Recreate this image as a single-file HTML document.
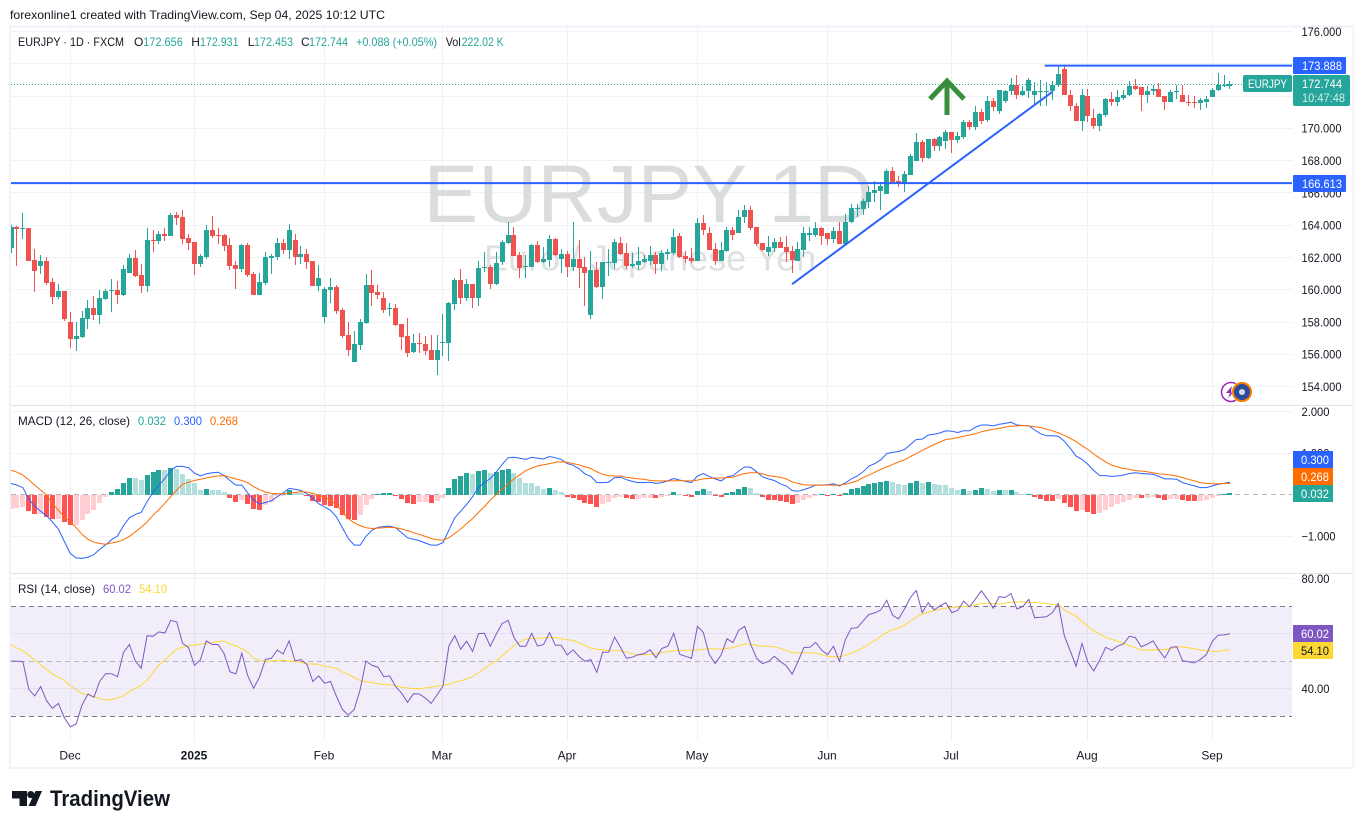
<!DOCTYPE html>
<html lang="en">
<head>
<meta charset="utf-8">
<title>EURJPY 1D chart</title>
<style>
html,body{margin:0;padding:0;background:#fff;width:1364px;height:829px;overflow:hidden}
svg{display:block;font-family:"Liberation Sans",Arial,sans-serif}
</style>
</head>
<body>
<svg id="chart" xmlns="http://www.w3.org/2000/svg" width="1364" height="829" viewBox="0 0 1364 829">
  <defs>
    <clipPath id="clip-price"><rect x="11" y="27" width="1281" height="378"/></clipPath>
    <clipPath id="clip-macd"><rect x="11" y="406" width="1281" height="167"/></clipPath>
    <clipPath id="clip-rsi"><rect x="11" y="574" width="1281" height="167"/></clipPath>
  </defs>

  <text x="10" y="19" font-size="12" fill="#131722" textLength="375" lengthAdjust="spacingAndGlyphs">forexonline1 created with TradingView.com, Sep 04, 2025 10:12 UTC</text>

  <rect x="10" y="26.5" width="1343.5" height="741.5" fill="#fff" stroke="#f0f3fa" stroke-width="2"/>

  <g id="grid"></g>

  <text x="423.5" y="222" font-size="82" fill="#dbdcde">EURJPY 1D</text>
  <text x="484" y="270.5" font-size="36" fill="#dfe0e2">Euro / Japanese Yen</text>

  <rect id="rsiBand" x="11" width="1281" fill="#7e57c2" fill-opacity="0.1"/>

  <line x1="11" x2="1352" y1="405.5" y2="405.5" stroke="#e0e3eb"/>
  <line x1="11" x2="1352" y1="573.5" y2="573.5" stroke="#e0e3eb"/>

  <g id="pricePane" clip-path="url(#clip-price)"></g>
  <g id="macdPane" clip-path="url(#clip-macd)"></g>
  <g id="rsiPane" clip-path="url(#clip-rsi)"></g>

  <g fill="none" stroke="#388e3c" stroke-width="5">
    <line x1="947" y1="115" x2="947" y2="83"/>
    <polyline points="930,99 947,81 964,99"/>
  </g>

  <g font-size="12" fill="#131722">
    <text x="18" y="46" textLength="106" lengthAdjust="spacingAndGlyphs">EURJPY · 1D · FXCM</text>
    <text x="134" y="46">O</text>
    <text x="143.3" y="46" fill="#26a69a" textLength="39.5" lengthAdjust="spacingAndGlyphs">172.656</text>
    <text x="191.3" y="46">H</text>
    <text x="200" y="46" fill="#26a69a" textLength="38.5" lengthAdjust="spacingAndGlyphs">172.931</text>
    <text x="247.7" y="46">L</text>
    <text x="254" y="46" fill="#26a69a" textLength="39" lengthAdjust="spacingAndGlyphs">172.453</text>
    <text x="301" y="46">C</text>
    <text x="309" y="46" fill="#26a69a" textLength="39" lengthAdjust="spacingAndGlyphs">172.744</text>
    <text x="356" y="46" fill="#26a69a" textLength="81" lengthAdjust="spacingAndGlyphs">+0.088 (+0.05%)</text>
    <text x="445.7" y="46" textLength="15" lengthAdjust="spacingAndGlyphs">Vol</text>
    <text x="461.7" y="46" fill="#26a69a" textLength="42" lengthAdjust="spacingAndGlyphs">222.02 K</text>
  </g>
  <g font-size="12" fill="#131722">
    <text x="18" y="425" textLength="112" lengthAdjust="spacingAndGlyphs">MACD (12, 26, close)</text>
    <text x="138" y="425" fill="#26a69a" textLength="28" lengthAdjust="spacingAndGlyphs">0.032</text>
    <text x="174" y="425" fill="#2962ff" textLength="28" lengthAdjust="spacingAndGlyphs">0.300</text>
    <text x="210" y="425" fill="#ff6d00" textLength="28" lengthAdjust="spacingAndGlyphs">0.268</text>
  </g>
  <g font-size="12" fill="#131722">
    <text x="18" y="593" textLength="77" lengthAdjust="spacingAndGlyphs">RSI (14, close)</text>
    <text x="103" y="593" fill="#7e57c2" textLength="28" lengthAdjust="spacingAndGlyphs">60.02</text>
    <text x="139" y="593" fill="#fdd835" textLength="28" lengthAdjust="spacingAndGlyphs">54.10</text>
  </g>

  <g>
    <circle cx="1231" cy="392" r="9.5" fill="#fff" stroke="#9c27b0" stroke-width="1.5"/>
    <polygon points="1232,386 1226,393 1230,393 1228,398 1235,391 1231,391" fill="#9c27b0"/>
    <circle cx="1242" cy="392" r="10.5" fill="#fff"/>
    <circle cx="1242" cy="392" r="9" fill="#2e4a9a" stroke="#f57c00" stroke-width="2"/>
    <circle cx="1242" cy="392" r="3" fill="#fff" fill-opacity="0.8"/>
  </g>

  <g id="axisLabels" font-size="12" fill="#131722"></g>

  <g font-size="12" fill="#fff">
    <rect x="1293" y="57" width="53" height="17" rx="1" fill="#2962ff"/>
    <text x="1302" y="70" textLength="40" lengthAdjust="spacingAndGlyphs">173.888</text>
    <rect x="1293" y="175" width="53" height="17" rx="1" fill="#2962ff"/>
    <text x="1302" y="188" textLength="40" lengthAdjust="spacingAndGlyphs">166.613</text>
    <rect x="1243" y="75" width="49" height="17" rx="2" fill="#26a69a"/>
    <text x="1248" y="88" textLength="39" lengthAdjust="spacingAndGlyphs">EURJPY</text>
    <rect x="1293" y="75" width="57" height="31" rx="2" fill="#26a69a"/>
    <text x="1302" y="88" textLength="40" lengthAdjust="spacingAndGlyphs">172.744</text>
    <text x="1302" y="102" fill="#d4eeeb" textLength="43" lengthAdjust="spacingAndGlyphs">10:47:48</text>

    <rect x="1293" y="451" width="40" height="17" fill="#2962ff"/>
    <text x="1301" y="464" textLength="28" lengthAdjust="spacingAndGlyphs">0.300</text>
    <rect x="1293" y="468" width="40" height="17" fill="#ff6d00"/>
    <text x="1301" y="481" textLength="28" lengthAdjust="spacingAndGlyphs">0.268</text>
    <rect x="1293" y="485" width="40" height="17" fill="#26a69a"/>
    <text x="1301" y="498" textLength="28" lengthAdjust="spacingAndGlyphs">0.032</text>

    <rect x="1293" y="625" width="40" height="17" fill="#7e57c2"/>
    <text x="1301" y="638" textLength="28" lengthAdjust="spacingAndGlyphs">60.02</text>
    <rect x="1293" y="642" width="40" height="17" fill="#fdd835"/>
    <text x="1301" y="655" fill="#131722" textLength="28" lengthAdjust="spacingAndGlyphs">54.10</text>
  </g>

  <g>
    <polygon points="12,791 27,791 27,806 19.5,806 19.5,798.5 12,798.5" fill="#131722"/>
    <circle cx="30.8" cy="794.6" r="3.6" fill="#131722"/>
    <polygon points="35.5,791 42,791 35.5,806 28.5,806" fill="#131722"/>
    <text x="50" y="806" font-size="22" font-weight="700" fill="#131722" textLength="120" lengthAdjust="spacingAndGlyphs">TradingView</text>
  </g>
</svg>

<script>
const opens = [
162.59,163.88,163.77,163.84,161.85,161.47,161.78,160.48,159.54,159.92,
157.99,156.93,157.05,158.17,158.86,158.42,159.42,159.92,159.98,159.67,
161.04,161.97,160.91,160.23,163.09,163.03,163.46,163.34,164.65,164.52,
163.21,162.97,161.60,162.03,163.71,163.40,163.40,162.78,161.53,161.28,
162.78,160.97,159.67,160.41,161.97,162.03,162.90,162.47,163.09,162.03,
162.22,161.78,160.23,158.30,159.98,160.16,158.73,157.18,155.50,156.55,
157.92,160.29,159.85,159.48,158.79,158.86,157.86,157.11,156.12,156.68,
156.62,156.24,155.68,156.68,156.68,159.11,160.60,159.48,160.35,159.48,
161.35,161.41,160.35,161.72,162.90,163.40,162.16,161.41,161.41,162.78,
161.72,161.85,163.15,161.91,162.22,161.41,161.91,161.41,158.42,161.22,
160.16,161.66,161.66,162.90,162.28,161.47,161.53,161.72,161.78,162.16,
161.60,162.22,162.28,163.36,162.12,161.99,161.81,164.11,163.55,162.55,
161.81,162.43,163.73,163.49,164.48,164.92,163.86,162.93,162.37,162.61,
162.99,162.68,162.43,161.81,162.49,163.42,163.42,163.80,163.55,163.17,
163.67,162.86,164.17,164.98,164.98,165.42,165.98,166.10,165.91,167.35,
166.72,166.54,167.10,167.97,169.15,168.15,169.34,168.90,169.21,169.77,
169.27,169.46,170.40,170.06,171.00,170.50,171.70,171.09,171.67,172.29,
172.71,172.09,172.29,172.05,172.29,172.29,172.33,172.66,173.70,172.09,
171.41,170.47,172.03,170.64,170.17,170.85,171.82,171.61,171.86,172.05,
172.64,172.54,172.09,172.33,172.46,172.03,171.61,172.23,172.09,171.65,
171.61,171.55,171.65,171.96,172.36,172.64,172.656];

const highs = [
164.02,163.96,164.77,163.84,162.53,162.16,162.03,160.72,160.35,159.92,
158.61,157.99,158.67,159.36,159.60,159.98,160.04,160.66,160.54,161.53,
162.22,162.47,161.60,163.84,163.71,163.65,163.84,164.77,164.83,164.96,
163.46,162.97,162.22,164.02,164.58,163.84,163.46,163.21,161.78,162.84,
162.90,161.10,161.04,162.34,162.22,163.21,163.15,164.09,163.46,162.72,
162.53,161.78,161.53,160.16,160.72,160.29,158.86,157.99,157.43,158.17,
160.97,161.22,160.29,159.85,159.17,159.11,157.86,158.23,157.24,157.30,
157.11,157.18,157.18,158.48,159.23,160.72,161.28,160.66,160.35,161.78,
162.34,161.53,162.34,163.09,164.21,163.90,162.34,162.16,162.84,163.03,
162.65,163.40,163.21,162.53,162.41,164.21,163.09,162.03,162.41,161.72,
161.72,162.53,163.15,163.28,162.90,162.28,162.65,162.16,162.72,162.34,
162.47,162.53,163.77,163.50,162.43,162.61,164.42,164.61,163.86,162.93,
162.99,163.92,163.92,164.92,165.23,165.17,163.86,162.93,163.36,163.24,
163.30,163.36,162.74,162.99,163.92,163.92,164.23,163.86,163.55,163.86,
164.23,164.67,165.29,165.29,165.60,166.41,166.72,166.66,167.47,167.59,
167.03,167.35,168.40,169.71,169.27,169.34,169.40,169.52,169.90,169.77,
169.77,170.52,170.52,171.40,171.20,172.00,171.90,172.40,172.40,173.12,
173.33,172.60,173.12,172.85,173.02,172.85,172.91,173.84,173.95,172.40,
171.57,172.44,172.46,171.20,170.95,171.88,172.23,172.40,172.36,172.91,
173.08,172.54,172.64,172.71,172.81,172.03,172.36,172.71,172.71,172.09,
171.98,171.88,172.03,172.50,173.43,173.33,172.931];

const lows = [
162.30,161.49,163.15,161.78,159.85,160.97,160.29,159.11,159.42,158.05,
156.37,156.18,156.99,157.55,158.11,157.86,159.36,158.61,159.11,159.60,
161.04,160.79,159.79,159.85,162.34,162.84,163.03,163.34,164.02,162.84,
162.47,160.91,161.41,161.91,163.21,162.84,162.41,161.22,160.04,161.10,
160.79,159.67,159.67,160.29,160.97,161.85,162.22,161.91,161.53,161.60,
161.28,160.23,159.92,157.92,159.17,158.48,156.99,155.87,155.50,156.24,
157.86,158.98,159.42,158.55,158.36,157.74,156.30,155.81,156.06,156.06,
155.99,155.62,154.75,155.87,155.56,158.73,159.11,159.29,158.86,158.98,
161.10,160.04,160.29,161.53,162.84,162.09,160.72,160.72,161.41,161.66,
161.66,161.41,162.09,161.04,160.79,161.16,160.10,158.98,158.17,160.10,
159.42,160.85,161.28,162.16,161.28,161.35,161.22,161.66,161.53,160.97,
161.16,161.85,162.16,162.00,161.68,161.68,161.81,163.42,162.49,161.56,
161.81,162.37,163.11,163.49,164.11,163.73,162.74,162.43,162.12,162.37,
162.61,161.74,161.06,161.81,162.05,163.05,163.30,162.80,162.80,162.93,
162.86,162.80,164.11,164.54,164.61,165.04,165.42,164.92,165.91,166.54,
166.35,166.04,167.10,167.97,167.91,168.09,168.59,168.59,168.71,168.47,
169.09,169.34,169.90,169.90,170.30,170.40,171.10,170.90,171.60,172.09,
171.84,171.98,171.88,171.47,171.41,171.41,171.78,172.56,172.05,171.09,
170.47,169.81,170.39,169.98,169.86,170.68,171.36,171.36,171.78,171.98,
172.40,171.05,171.57,172.09,171.92,171.16,171.61,171.82,171.61,171.36,
171.26,171.16,171.26,171.92,172.31,172.56,172.453];

const closes = [
163.92,163.77,163.84,161.78,161.16,161.78,160.41,159.54,159.92,158.17,
156.93,157.11,158.23,158.86,158.42,159.48,159.92,159.98,159.67,161.28,
161.97,160.85,160.23,163.09,163.03,163.46,163.34,164.65,164.46,163.15,
162.90,161.60,162.09,163.71,163.34,163.34,162.72,161.47,161.28,162.78,
160.91,159.67,160.48,162.03,162.09,162.90,162.47,163.71,162.03,162.22,
161.72,160.23,160.72,160.04,160.16,158.67,157.11,156.24,156.62,157.99,
160.29,159.79,159.67,158.73,158.86,157.80,157.05,156.06,156.68,156.62,
156.18,155.68,156.24,156.74,159.17,160.60,159.48,160.35,159.48,161.35,
161.41,160.35,161.66,162.97,163.40,162.09,161.35,161.47,162.78,161.72,
161.91,163.15,162.16,162.22,161.41,161.91,161.35,161.04,161.22,160.16,
161.72,161.72,162.97,162.22,161.47,161.60,161.78,161.91,162.16,161.60,
162.28,162.34,163.28,162.05,161.93,161.81,164.11,163.73,162.49,161.81,
162.49,163.73,163.42,164.54,164.92,163.80,162.86,162.49,162.68,162.99,
162.61,162.37,161.87,162.55,163.49,163.49,163.80,163.36,163.17,163.67,
162.86,164.23,165.04,165.04,165.48,166.04,166.16,166.41,167.35,166.66,
166.54,167.16,168.28,169.15,168.15,169.34,168.90,169.46,169.77,169.27,
169.52,170.40,170.08,170.99,170.45,171.70,171.30,172.36,172.33,172.71,
172.09,172.33,173.02,172.29,172.33,172.33,172.71,173.39,172.05,171.36,
170.47,172.05,170.79,170.17,170.91,171.82,171.61,171.96,172.09,172.64,
172.46,172.09,172.29,172.46,171.94,171.61,172.23,172.29,171.61,171.55,
171.55,171.74,171.84,172.40,172.71,172.71,172.744];

const macdHist = [
-.35,-.33,-.30,-.40,-.47,-.465,-.54,-.59,-.585,-.67,
-.74,-.735,-.62,-.47,-.375,-.21,-.06,.06,.13,.28,
.40,.395,.35,.47,.54,.59,.585,.64,.62,.50,
.375,.28,.11,.13,.11,.105,.06,-.085,-.18,-.13,
-.23,-.35,-.375,-.25,-.18,-.02,-.01,.11,.06,.04,
-.04,-.16,-.18,-.25,-.28,-.33,-.50,-.59,-.62,-.50,
-.25,-.11,.01,.04,.045,-.04,-.11,-.21,-.215,-.18,
-.175,-.21,-.16,-.085,.16,.375,.45,.52,.50,.57,
.59,.52,.54,.59,.62,.52,.40,.28,.275,.21,
.13,.16,.11,.06,-.06,-.085,-.13,-.21,-.23,-.30,
-.23,-.18,-.085,-.06,-.085,-.11,-.105,-.085,-.08,-.085,
-.06,-.04,.06,.01,-.04,-.06,.085,.13,.085,-.04,
-.06,.04,.06,.13,.18,.16,.04,-.06,-.13,-.135,
-.16,-.18,-.23,-.21,-.13,-.085,-.01,.01,-.04,.01,
-.04,.04,.13,.16,.21,.26,.28,.30,.33,.30,
.26,.23,.28,.33,.28,.30,.26,.23,.225,.16,
.11,.13,.085,.11,.16,.13,.085,.11,.105,.11,
.06,.01,.015,-.06,-.11,-.16,-.165,-.11,-.21,-.30,
-.40,-.375,-.42,-.47,-.45,-.375,-.30,-.23,-.18,-.13,
-.085,-.09,-.085,-.06,-.085,-.13,-.11,-.105,-.13,-.16,
-.165,-.16,-.13,-.085,-.04,.01,.032];

const macdLine = [
.27,.23,.17,-.11,-.28,-.40,-.51,-.66,-.83,-1.13,
-1.42,-1.53,-1.54,-1.51,-1.45,-1.32,-1.21,-1.09,-1.00,-.75,
-.56,-.48,-.43,-.17,.05,.23,.39,.59,.68,.68,
.65,.52,.45,.50,.53,.54,.46,.34,.23,.23,
.04,-.13,-.23,-.19,-.15,-.05,.04,.15,.13,.10,
.02,-.09,-.22,-.30,-.38,-.54,-.80,-1.06,-1.22,-1.22,
-1.01,-.86,-.79,-.77,-.76,-.80,-.92,-1.04,-1.08,-1.11,
-1.17,-1.22,-1.22,-1.16,-.86,-.56,-.40,-.24,-.05,.17,
.29,.39,.54,.73,.89,.90,.88,.85,.90,.88,
.86,.92,.89,.85,.75,.71,.62,.50,.44,.29,
.29,.30,.41,.42,.36,.32,.29,.29,.30,.27,
.29,.33,.39,.35,.32,.29,.45,.51,.44,.38,
.33,.43,.46,.57,.67,.66,.55,.43,.38,.34,
.26,.21,.10,.08,.12,.17,.23,.23,.24,.26,
.21,.28,.38,.45,.55,.69,.75,.84,.99,1.02,
1.04,1.09,1.21,1.33,1.34,1.44,1.46,1.49,1.54,1.53,
1.50,1.54,1.54,1.63,1.68,1.68,1.66,1.70,1.72,1.75,
1.68,1.67,1.66,1.56,1.47,1.42,1.42,1.41,1.29,1.12,
.93,.85,.73,.58,.46,.46,.44,.45,.47,.51,
.53,.51,.50,.49,.44,.38,.38,.37,.29,.25,
.21,.17,.17,.21,.25,.27,.30];

const signalLine = [
.59,.54,.47,.36,.23,.11,-.01,-.21,-.38,-.54,
-.66,-.80,-.96,-1.08,-1.15,-1.18,-1.20,-1.17,-1.14,-1.09,
-1.01,-.90,-.79,-.66,-.50,-.36,-.21,-.04,.11,.25,
.30,.34,.37,.40,.43,.45,.46,.42,.38,.34,
.29,.19,.12,.06,.03,.02,.02,.04,.05,.07,
.06,.03,-.02,-.06,-.13,-.25,-.42,-.58,-.68,-.75,
-.80,-.82,-.81,-.80,-.79,-.80,-.83,-.87,-.92,-.96,
-1.01,-1.06,-1.09,-1.10,-1.04,-.94,-.83,-.70,-.58,-.43,
-.29,-.13,0,.13,.26,.38,.48,.58,.64,.69,
.72,.75,.78,.79,.78,.75,.72,.67,.63,.55,
.49,.46,.45,.45,.42,.40,.38,.37,.34,.33,
.33,.33,.33,.34,.33,.33,.35,.38,.39,.40,
.40,.41,.42,.47,.51,.53,.53,.50,.46,.44,
.42,.38,.31,.27,.24,.23,.23,.23,.23,.23,
.23,.25,.29,.33,.41,.47,.54,.61,.67,.73,
.79,.84,.92,.99,1.07,1.14,1.21,1.27,1.33,1.35,
1.38,1.41,1.44,1.47,1.52,1.55,1.58,1.60,1.63,1.65,
1.66,1.67,1.66,1.64,1.62,1.58,1.54,1.49,1.43,1.36,
1.28,1.18,1.09,.98,.88,.79,.71,.67,.63,.61,
.58,.57,.55,.53,.50,.49,.47,.45,.41,.37,
.33,.29,.27,.26,.26,.27,.268];

const rsiLine = [
50.1,50.0,49.9,39.8,37.4,40.8,35.7,32.9,34.7,29.5,
26.2,27.2,34.1,38.1,36.9,42.8,45.5,45.5,44.4,53.2,
56.1,50.1,47.5,59.3,59.1,60.7,60.3,64.9,64.3,56.5,
55.0,48.5,50.5,57.4,56.1,56.1,52.9,46.2,45.4,52.9,
44.8,40.2,44.3,50.7,51.1,54.1,52.7,57.4,50.2,50.6,
48.9,42.7,44.7,42.0,42.7,37.2,32.5,30.4,32.5,39.6,
50.1,48.5,47.9,44.4,44.7,40.8,38.4,35.1,38.2,38.1,
36.7,34.7,37.8,41.0,55.6,59.3,54.4,57.3,53.6,60.1,
60.2,55.5,59.8,63.7,64.9,58.6,55.5,55.5,60.2,55.5,
56.1,60.4,55.8,55.8,52.3,54.2,51.7,50.0,50.6,46.0,
53.3,53.3,58.8,55.1,51.1,51.5,52.4,52.8,54.2,51.3,
54.7,55.5,60.2,52.5,51.8,51.1,62.7,60.5,52.5,49.2,
52.3,58.2,56.8,61.3,62.7,56.2,51.1,49.2,49.9,51.8,
50.0,48.4,45.3,49.9,55.0,55.1,56.9,54.0,52.4,55.5,
50.0,57.8,62.0,62.2,64.7,67.0,67.6,68.7,72.2,66.7,
65.4,69.0,73.2,75.7,67.7,71.3,68.7,70.2,71.3,67.7,
68.5,71.9,69.8,72.7,75.6,72.7,69.3,73.5,73.2,74.6,
69.0,69.9,72.5,65.8,66.0,66.2,67.7,71.0,59.3,53.8,
48.2,56.5,49.6,46.5,50.5,55.1,54.0,55.5,56.3,59.1,
58.6,55.3,56.2,57.4,54.0,51.2,55.1,55.3,50.2,49.8,
49.4,50.7,52.4,57.2,59.5,59.6,60.02];

const rsiMa = [
56.1,54.8,53.8,52.2,50.5,48.7,47.0,45.3,44.2,43.0,
41.15,39.6,38.2,37.8,37.2,36.4,35.9,36.1,36.7,37.5,
39.0,40.1,41.3,43.2,45.9,48.7,50.5,52.5,54.4,55.2,
55.6,55.9,56.3,56.5,56.8,57.2,57.4,56.3,55.6,54.6,
53.3,51.1,50.4,49.9,50.1,50.2,50.4,50.1,50.0,49.6,
49.0,49.0,48.9,48.2,47.9,47.5,46.2,45.2,44.1,43.0,
42.6,42.2,41.9,41.6,41.5,41.15,40.5,40.3,40.1,40.1,
40.3,40.6,41.0,41.3,41.6,42.4,42.9,43.6,44.4,45.9,
47.3,48.9,50.1,51.9,53.9,55.7,57.0,58.1,58.2,58.4,
58.5,58.6,58.7,58.2,57.8,57.6,56.7,55.7,54.8,54.4,
54.1,53.9,53.9,53.8,53.3,52.8,52.4,52.4,52.5,52.7,
53.2,53.5,53.8,53.9,54.0,54.0,54.1,54.4,54.6,54.5,
54.4,54.7,55.0,55.7,56.3,56.2,55.7,55.5,55.5,55.3,
54.7,54.0,53.2,53.0,53.2,53.0,52.9,52.4,51.8,51.7,
51.6,52.2,53.0,53.8,54.9,56.3,57.5,59.1,60.5,61.5,
62.1,63.1,64.7,66.0,67.2,67.9,68.4,68.9,69.3,69.6,
69.8,69.9,70.0,70.5,71.0,71.1,71.0,70.8,71.2,71.4,
71.6,71.6,71.4,71.4,71.2,71.0,70.7,70.5,68.8,67.5,
66.4,64.5,62.6,61.1,59.9,58.7,58.0,57.3,56.5,55.7,
54.9,54.1,54.1,54.1,54.2,54.4,54.7,55.2,55.2,54.9,
54.5,54.1,53.8,53.6,53.6,54.0,54.10];

const timeTickBars = [10,31,53,73,94,116,138,159,182,203];
const timeTickLabels = ['Dec','2025','Feb','Mar','Apr','May','Jun','Jul','Aug','Sep'];
const priceTicks = [176,174,172,170,168,166,164,162,160,158,156,154];
const macdTicks = [2,1,-1];
const rsiTicks = [80,60,40];
const rsiBands = [70,50,30];
const lastPrice = 172.744;
const upperLevel = 173.888;
const lowerLevel = 166.613;
const upperLevelStartBar = 174.7;
const trendBars = [132,176];
const trendPrices = [160.35,172.27];

const barX = i => 70.2 + 5.917 * (i - 10);
const priceY = p => 128.4 + (170 - p) * 16.14;
const macdY = v => 494.6 - v * 41.4;
const rsiY = v => 661.3 - (v - 50) * 2.75;
const PANE_LEFT = 11, PANE_RIGHT = 1292;

const NS = 'http://www.w3.org/2000/svg';
function mk(parent, tag, attrs) {
  const el = document.createElementNS(NS, tag);
  for (const k in attrs) el.setAttribute(k, attrs[k]);
  parent.appendChild(el);
  return el;
}
const pixel = x => Math.floor(x) + 0.5;
const linePoints = (arr, y) => arr.map((v, i) => barX(i).toFixed(1) + ',' + y(v).toFixed(1)).join(' ');

const grid = document.getElementById('grid');
const labels = document.getElementById('axisLabels');
const pricePane = document.getElementById('pricePane');
const macdPane = document.getElementById('macdPane');
const rsiPane = document.getElementById('rsiPane');

function hGrid(y, x2) {
  const el = mk(grid, 'line', {x1: PANE_LEFT, x2: x2, y1: pixel(y), y2: pixel(y), stroke: '#f1f2f5'});
  
  
}
function axisText(text, y, len) {
  const el = mk(labels, 'text', {x: 1301.5, y: y + 4.3, textLength: len, lengthAdjust: 'spacingAndGlyphs'});
  el.textContent = text;
  
  
}

timeTickBars.forEach((b, k) => {
  const x = pixel(barX(b));
  const gl = mk(grid, 'line', {x1: x, x2: x, y1: 27, y2: 741, stroke: '#f0f1f4'});
  
  
  const t = mk(labels, 'text', {x: x - 0.5, y: 759.5, 'text-anchor': 'middle'});
  t.textContent = timeTickLabels[k];
  if (timeTickLabels[k] === '2025') t.setAttribute('font-weight', '700');
  
  
});

priceTicks.forEach(p => {
  hGrid(priceY(p), PANE_RIGHT);
  axisText(p.toFixed(3), priceY(p), 40);
});
macdTicks.forEach(v => {
  hGrid(macdY(v), PANE_RIGHT);
  axisText((v < 0 ? '\u2212' + Math.abs(v).toFixed(3) : v.toFixed(3)), macdY(v), v < 0 ? 34 : 28);
});
rsiTicks.forEach(v => {
  hGrid(rsiY(v), PANE_RIGHT);
  axisText(v.toFixed(2), rsiY(v), 28);
});

const band = document.getElementById('rsiBand');
band.setAttribute('y', rsiY(rsiBands[0]));
band.setAttribute('height', rsiY(rsiBands[2]) - rsiY(rsiBands[0]));

/* price pane: candles */
opens.forEach((o, i) => {
  const c = closes[i];
  const color = c >= o ? '#26a69a' : '#ef5350';
  const x = Math.floor(barX(i));
  const g = mk(pricePane, 'g', {fill: color});
  
  
  const hy = Math.round(priceY(highs[i])), ly = Math.round(priceY(lows[i]));
  mk(g, 'rect', {x: x, y: hy, width: 1, height: Math.max(1, ly - hy)});
  const top = Math.round(priceY(Math.max(o, c))), bot = Math.round(priceY(Math.min(o, c)));
  mk(g, 'rect', {x: x - 2, y: top, width: 5, height: Math.max(1, bot - top)});
});

const lastLine = mk(pricePane, 'line', {x1: PANE_LEFT, x2: PANE_RIGHT, y1: pixel(priceY(lastPrice)), y2: pixel(priceY(lastPrice)), stroke: '#26a69a', 'stroke-dasharray': '1 2'});



const lvlUpper = mk(pricePane, 'line', {x1: barX(upperLevelStartBar), x2: PANE_RIGHT, y1: priceY(upperLevel), y2: priceY(upperLevel), stroke: '#2962ff', 'stroke-width': 2});



const lvlLower = mk(pricePane, 'line', {x1: PANE_LEFT, x2: PANE_RIGHT, y1: priceY(lowerLevel), y2: priceY(lowerLevel), stroke: '#2962ff', 'stroke-width': 2});



const trend = mk(pricePane, 'line', {x1: barX(trendBars[0]), y1: priceY(trendPrices[0]), x2: barX(trendBars[1]), y2: priceY(trendPrices[1]), stroke: '#2962ff', 'stroke-width': 2});



/* MACD pane */
const zero = mk(macdPane, 'line', {x1: PANE_LEFT, x2: PANE_RIGHT, y1: pixel(macdY(0)), y2: pixel(macdY(0)), stroke: '#b2b5be', 'stroke-dasharray': '5 4'});



macdHist.forEach((v, i) => {
  const prev = i > 0 ? macdHist[i - 1] : v;
  const color = v >= 0 ? (v > prev ? '#26a69a' : '#b2dfdb') : (v < prev ? '#ff5252' : '#ffcdd2');
  const y0 = Math.round(macdY(0)), y1 = Math.round(macdY(v));
  const h = Math.max(1, Math.abs(y1 - y0));
  const bar = mk(macdPane, 'rect', {x: Math.floor(barX(i)) - 2, y: Math.min(y0, y1), width: 5, height: h, fill: color});
  
  
});

const macdPath = mk(macdPane, 'polyline', {points: linePoints(macdLine, macdY), fill: 'none', stroke: '#2962ff', 'stroke-width': 1});



const signalPath = mk(macdPane, 'polyline', {points: linePoints(signalLine, macdY), fill: 'none', stroke: '#ff6d00', 'stroke-width': 1});



/* RSI pane */
rsiBands.forEach((v, k) => {
  const l = mk(rsiPane, 'line', {x1: PANE_LEFT, x2: PANE_RIGHT, y1: pixel(rsiY(v)), y2: pixel(rsiY(v)), stroke: k === 1 ? '#787b86' : '#787b86', 'stroke-opacity': k === 1 ? 0.5 : 1, 'stroke-dasharray': '5 4'});
  
  
});

const rsiMaPath = mk(rsiPane, 'polyline', {points: linePoints(rsiMa, rsiY), fill: 'none', stroke: '#fdd835', 'stroke-width': 1});



const rsiPath = mk(rsiPane, 'polyline', {points: linePoints(rsiLine, rsiY), fill: 'none', stroke: '#7e57c2', 'stroke-width': 1});


</script>
</body>
</html>
